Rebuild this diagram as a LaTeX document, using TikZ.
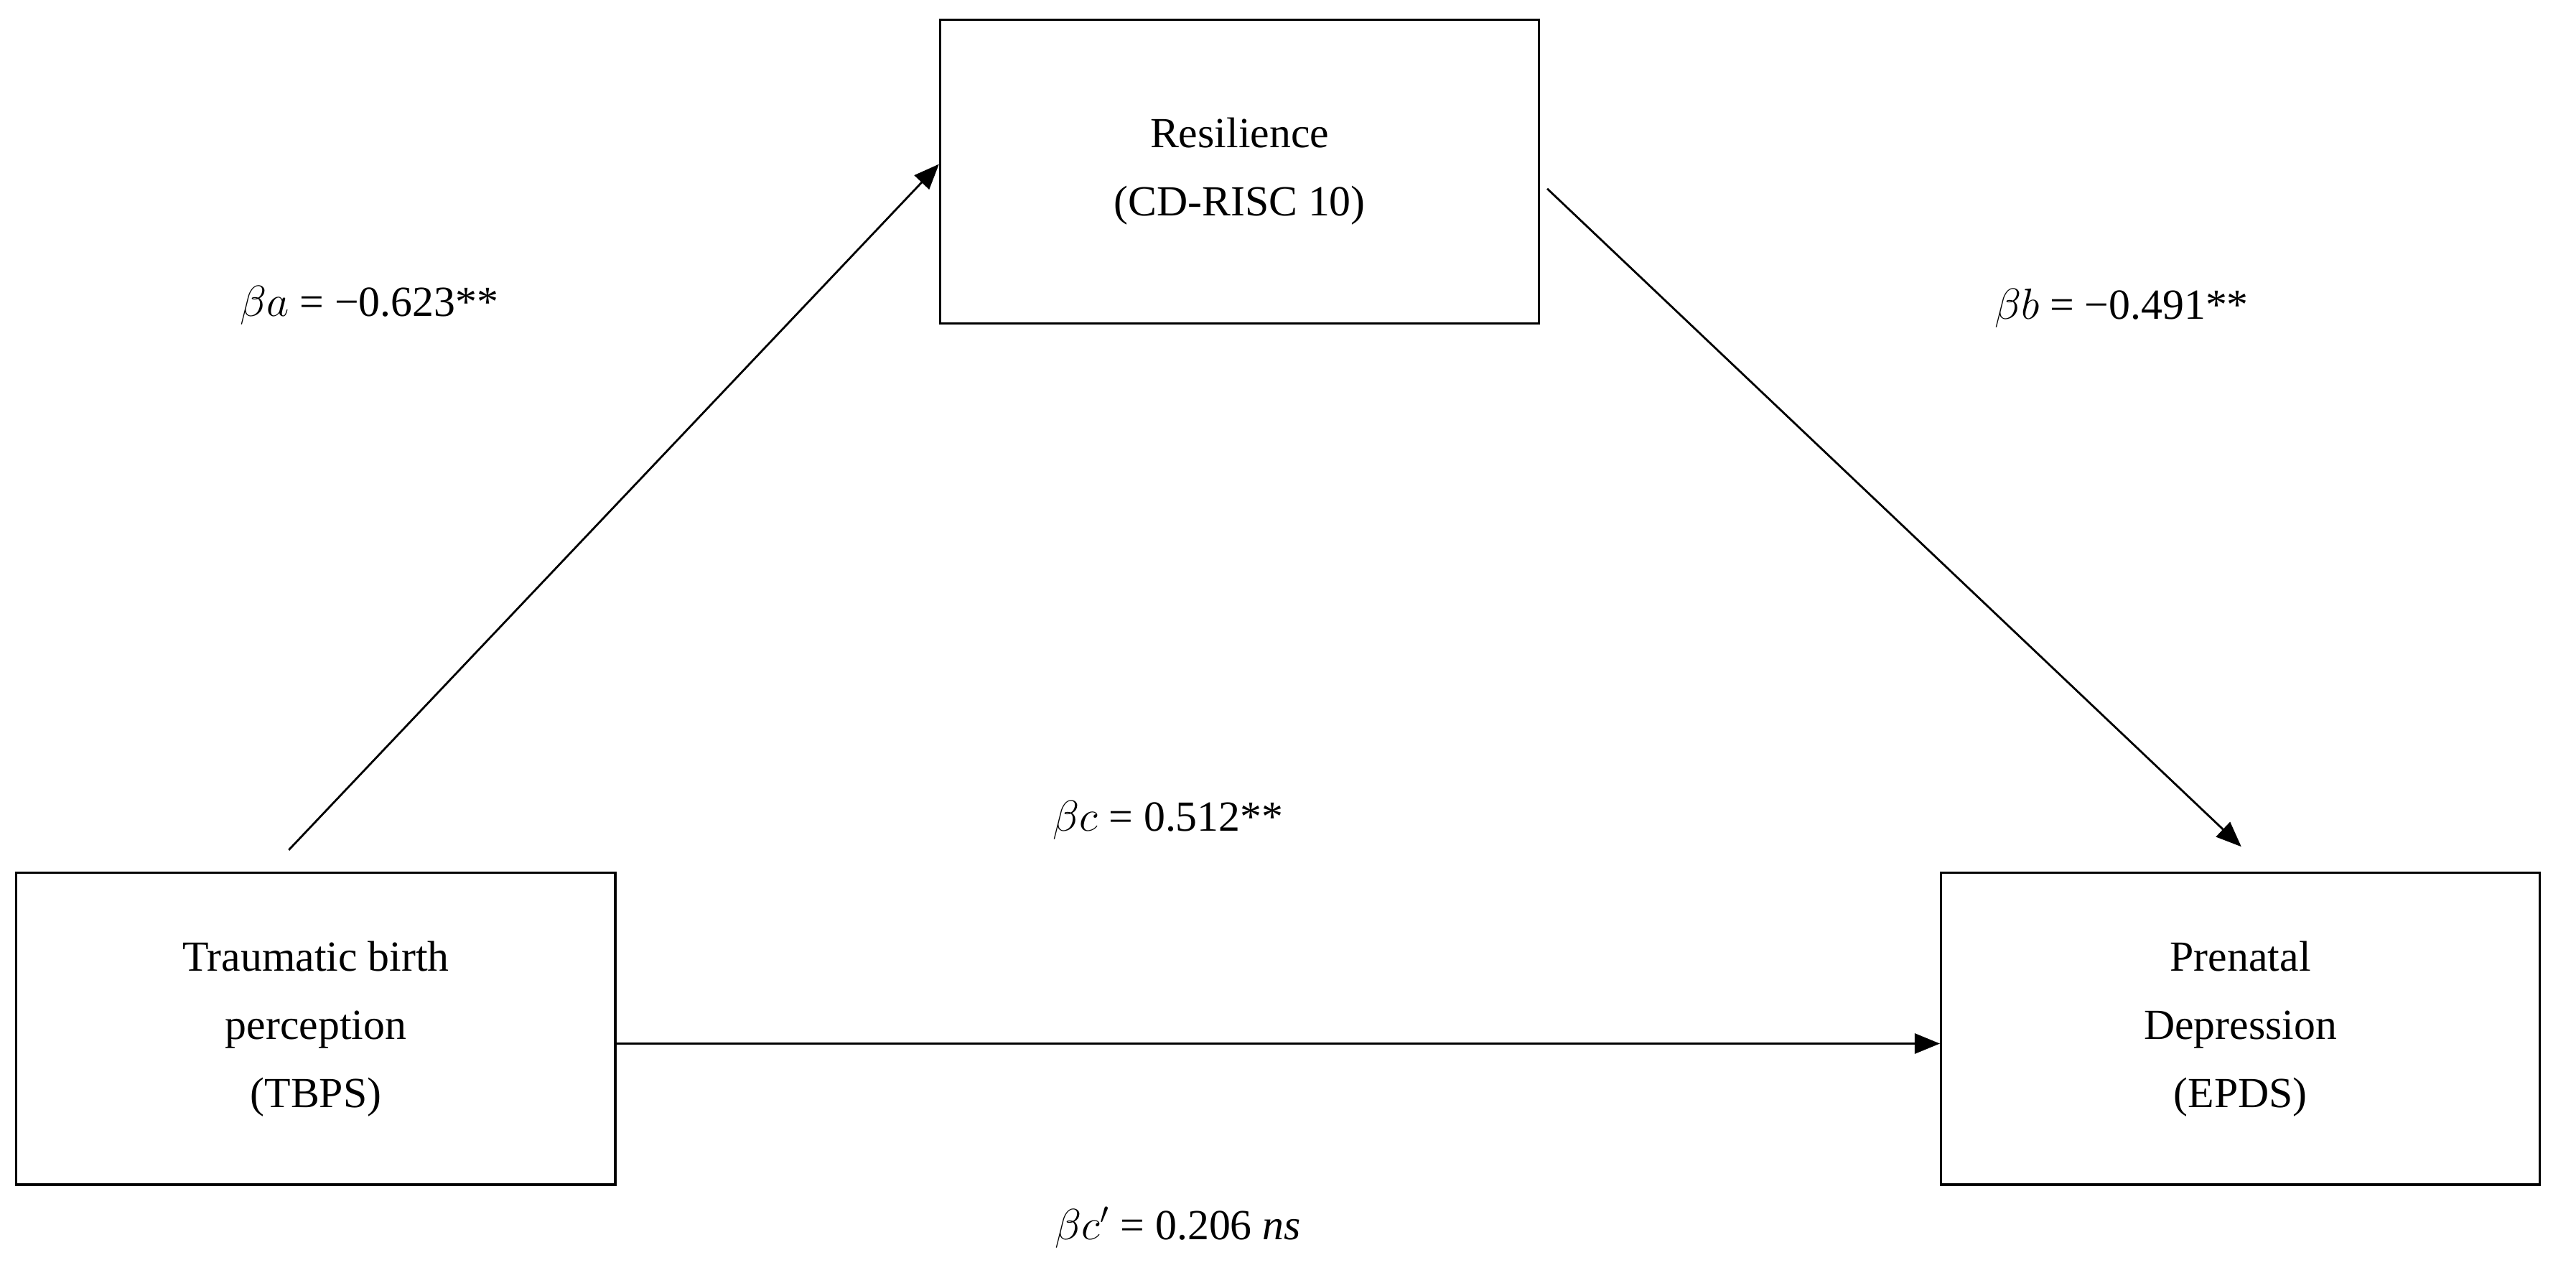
\documentclass[tikz,border=0pt]{standalone}
\usepackage{fontspec}
\setmainfont{Liberation Serif}
\usetikzlibrary{arrows.meta}
\begin{document}
\begin{tikzpicture}[x=0.02285cm,y=-0.02285cm,
  box/.style={draw,line width=0.9pt,minimum width=365*0.02285cm,align=center,font=\fontsize{17}{27}\selectfont},
  lab/.style={font=\fontsize{17}{20}\selectfont},
  arr/.style={line width=0.8pt,-{Triangle[length=10pt,width=8pt]}}]
\useasboundingbox (0,0) rectangle (1570,778.6);
\node[box,minimum height=185*0.02285cm] (r) at (755.5,104.5) {Resilience\\(CD-RISC 10)};
\node[box,minimum height=190*0.02285cm] (t) at (192.5,627) {Traumatic birth\\perception\\(TBPS)};
\node[box,minimum height=190*0.02285cm] (p) at (1365.5,627) {Prenatal\\Depression\\(EPDS)};
\coordinate (s1) at (176,518);
\coordinate (e2) at (1366,516);
\coordinate (s2) at (943,115);
\draw[arr] (s1) -- (r.west |- 0,100);
\draw[arr] (s2) -- (e2);
\draw[arr] (t.east |- 0,636) -- (p.west |- 0,636);
\node[lab] (la) at (225,186) {$\beta a$ = −0.623**};
\node[lab] (lb) at (1293,188) {$\beta b$ = −0.491**};
\node[lab] (lc) at (712,500) {$\beta c$ = 0.512**};
\node[lab] (ld) at (718,748) {$\beta c'$ = 0.206 \textit{ns}};
\end{tikzpicture}
\end{document}
